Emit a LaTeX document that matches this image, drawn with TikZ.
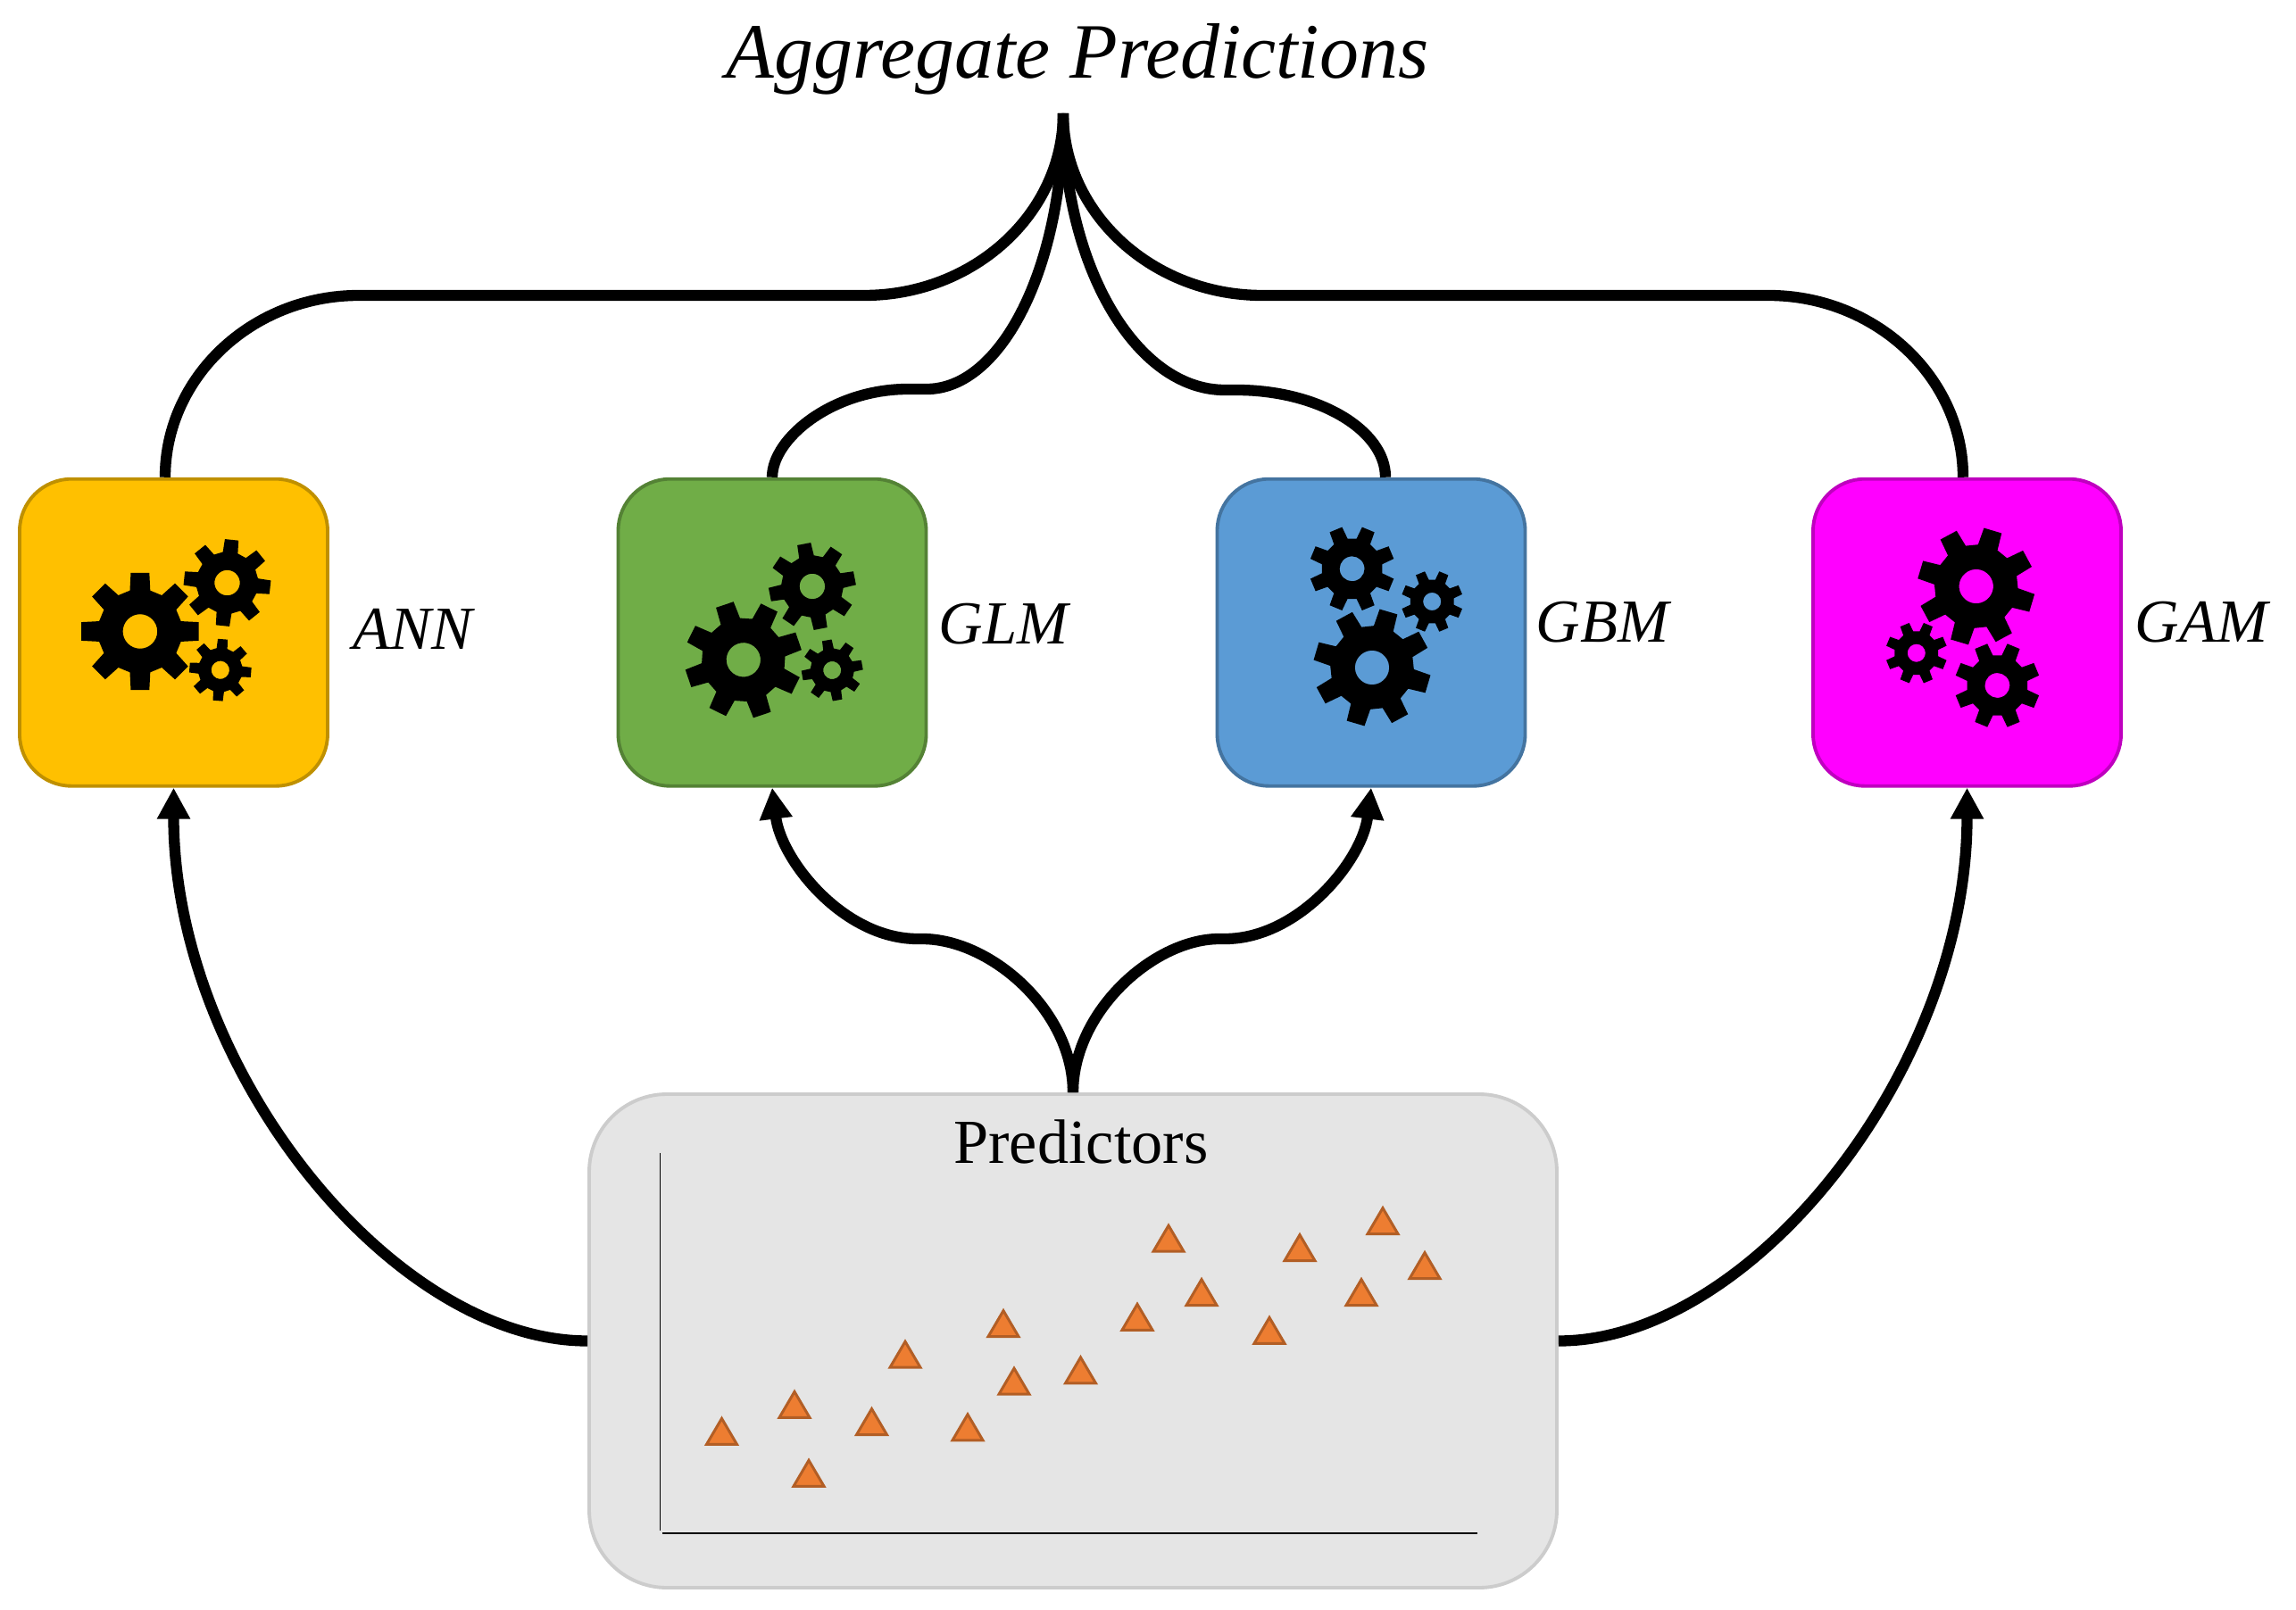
\documentclass[tikz,border=0pt]{standalone}
\usepackage{tikz}
\usepackage{xcolor}
\usepackage{fontspec}
\setmainfont{Liberation Serif}
\usetikzlibrary{arrows.meta}

\definecolor{annfill}{HTML}{FFC000}
\definecolor{glmfill}{HTML}{70AD47}
\definecolor{gbmfill}{HTML}{5B9BD5}
\definecolor{gamfill}{HTML}{FF00FF}
\definecolor{markfill}{HTML}{ED7D31}

\tikzset{
	modelbox/.style={rectangle, rounded corners=0.58cm, minimum width=3.45cm, minimum height=3.44cm, line width=1.1pt},
	predbox/.style={rectangle, rounded corners=0.87cm, minimum width=10.84cm, minimum height=5.53cm, line width=1.1pt, fill=black!10, draw=black!20},
	modellabel/.style={anchor=base west, inner sep=0pt, font=\fontsize{19.5}{22}\selectfont\itshape},
	link/.style={line width=3.5pt},
	linkarrow/.style={line width=3.5pt, -{Triangle[length=0.35cm,width=0.35cm]}},
	pointmark/.style={line width=0.85pt, fill=markfill, draw=markfill!75!black, line join=miter},
}

\newcommand{\gearshape}[4]{
	\fill[even odd rule, shift={(#1,#2)}, rotate=#4]
		(-14:{0.71*#3})
		\foreach \t in {0,45,...,315} {
			-- ({\t-14}:{0.71*#3}) -- ({\t-9}:#3) -- ({\t+9}:#3) -- ({\t+14}:{0.71*#3})
		} -- cycle
		(0,0) circle ({0.29*#3});
}

\begin{document}
\begin{tikzpicture}
	\useasboundingbox (0,0) rectangle (25.72,18.03);

	\node[anchor=base, inner sep=0pt, font=\fontsize{25}{28}\selectfont\itshape] (aggregate) at (12.07,17.155) {Aggregate Predictions};
	\coordinate (merge) at (11.91,16.76);

	\node[modelbox, fill=annfill, draw=annfill!75!black] (ann) at (1.945,10.943) {};
	\node[modelbox, fill=glmfill, draw=glmfill!75!black] (glm) at (8.65,10.943) {};
	\node[modelbox, fill=gbmfill, draw=gbmfill!75!black] (gbm) at (15.36,10.943) {};
	\node[modelbox, fill=gamfill, draw=gamfill!75!black] (gam) at (22.035,10.943) {};
	\node[predbox] (pred) at (12.02,3.005) {};

	\node[modellabel] (annlabel) at (3.95,10.753) {ANN};
	\node[modellabel] (glmlabel) at (10.51,10.81) {GLM};
	\node[modellabel] (gbmlabel) at (17.2,10.83) {GBM};
	\node[modellabel] (gamlabel) at (23.91,10.84) {GAM};
	\node[anchor=base, inner sep=0pt, font=\fontsize{20}{24}\selectfont] (predlabel) at (12.11,5.0) {Predictors};

	\gearshape{1.569}{10.955}{0.665}{0}
	\gearshape{2.545}{11.50}{0.49}{39}
	\gearshape{2.468}{10.523}{0.35}{40.5}

	\gearshape{8.328}{10.637}{0.66}{18.7}
	\gearshape{9.099}{11.46}{0.49}{11}
	\gearshape{9.322}{10.52}{0.345}{10}

	\gearshape{15.146}{11.657}{0.48}{22.5}
	\gearshape{16.042}{11.29}{0.347}{22.5}
	\gearshape{15.37}{10.55}{0.66}{28.6}

	\gearshape{22.137}{11.46}{0.66}{28.4}
	\gearshape{21.468}{10.713}{0.347}{22.5}
	\gearshape{22.374}{10.35}{0.48}{22.5}

	\draw[link] ([xshift=-0.095cm]ann.north) .. controls (1.85,13.80) and (2.82,14.72) .. (4.02,14.72) -- (9.68,14.72) .. controls (10.91,14.72) and (11.91,15.64) .. (merge);
	\draw[link] (merge) .. controls (11.91,15.64) and (12.91,14.72) .. (14.14,14.72) -- (19.81,14.72) .. controls (21.01,14.72) and (21.99,13.80) .. ([xshift=-0.045cm]gam.north);
	\draw[link] (glm.north) .. controls (8.65,13.12) and (9.33,13.67) .. (10.17,13.67) -- (10.38,13.67) .. controls (11.225,13.67) and (11.91,15.05) .. (merge);
	\draw[link] (merge) .. controls (11.91,15.06) and (12.72,13.66) .. (13.72,13.66) -- (13.85,13.66) .. controls (14.77,13.66) and (15.52,13.21) .. ([xshift=0.16cm]gbm.north);

	\draw[linkarrow] (pred.north) .. controls (12.02,6.7) and (11.1,7.51) .. (10.33,7.51) -- (10.28,7.51) .. controls (9.45,7.51) and (8.75,8.39) .. (glm.south);
	\draw[linkarrow] (pred.north) .. controls (12.02,6.7) and (12.93,7.51) .. (13.66,7.51) -- (13.72,7.51) .. controls (14.55,7.51) and (15.26,8.39) .. (gbm.south);
	\draw[linkarrow] (pred.west) .. controls (4.4,3.005) and (1.945,6.05) .. (ann.south);
	\draw[linkarrow] (pred.east) .. controls (19.62,3.005) and (22.035,6.05) .. (gam.south);

	\draw[line width=0.55pt] (7.395,5.115) -- (7.395,0.88);
	\draw[line width=0.7pt] (7.417,0.85) -- (16.55,0.85);

	\foreach \x/\y in {8.085/1.826, 8.90/2.126, 9.06/1.357, 9.765/1.934, 10.14/2.688, 10.84/1.872, 11.24/3.034, 11.36/2.388, 12.105/2.511, 12.74/3.107, 13.09/3.988, 13.46/3.384, 14.22/2.957, 14.56/3.884, 15.25/3.384, 15.49/4.184, 15.96/3.684}
		\draw[pointmark] (\x-0.17,\y+0.02) -- (\x+0.17,\y+0.02) -- (\x,\y+0.31) -- cycle;
\end{tikzpicture}
\end{document}
